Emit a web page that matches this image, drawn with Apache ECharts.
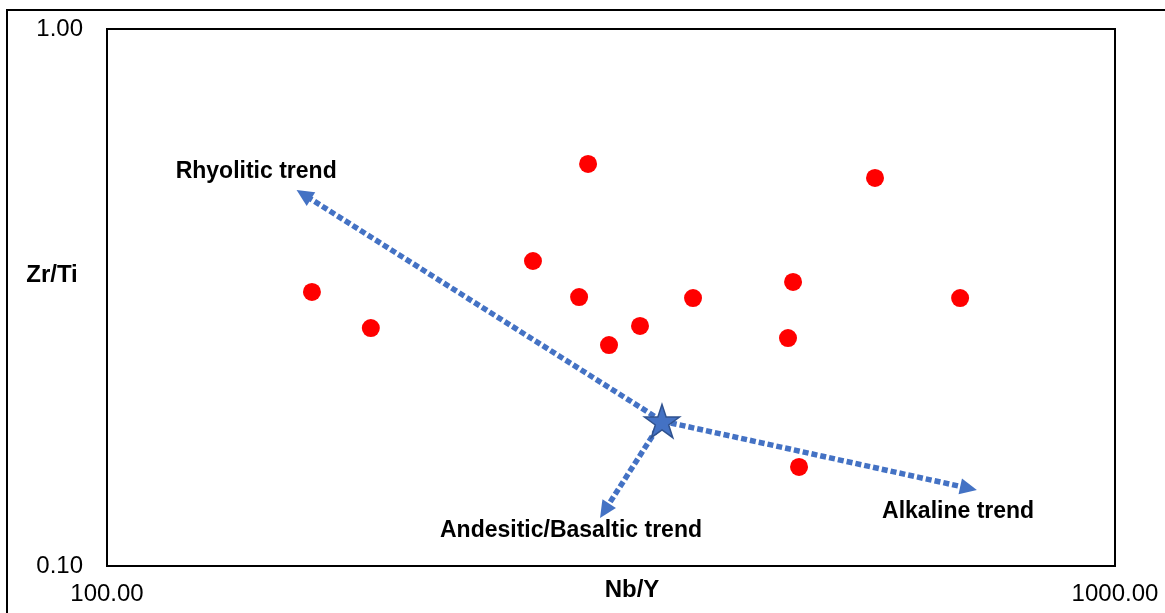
<!DOCTYPE html>
<html>
<head>
<meta charset="utf-8">
<title>Zr/Ti vs Nb/Y</title>
<script src="https://cdn.jsdelivr.net/npm/echarts@6/dist/echarts.min.js"></script>
<style>
  html, body { margin: 0; padding: 0; background: #fff; }
  #chart { width: 1165px; height: 613px; }
</style>
</head>
<body>
<div id="chart"></div>
<script>
// Sample compositions: Nb/Y (x) and Zr/Ti (y)
const nbY = [159.7, 182.7, 264.6, 300.1, 294.0, 314.8, 337.9, 381.4, 479.3, 473.8, 578.0, 702.0, 485.9];
const zrTi = [0.3238, 0.2774, 0.3698, 0.5606, 0.3168, 0.2579, 0.2800, 0.3155, 0.3380, 0.2658, 0.5280, 0.3155, 0.1529];

// Common origin of the trend arrows
const origin = [355.3, 0.1862];

// Trend arrows: tip points and their captions
const trendNames = ['Rhyolitic trend', 'Andesitic/Basaltic trend', 'Alkaline trend'];
const trendEnds = [[154.2, 0.5013], [308.4, 0.1229], [729.4, 0.1385]];
const trendLabelAt = [[140.6, 0.5417], [288.6, 0.1162], [698.8, 0.1260]];

// Axis ranges
const xRange = [100, 1000];
const yRange = [0.1, 1];

const FONT = 'Arial, "Liberation Sans", sans-serif';
const BLUE = '#4472C4';
const STAR = 'path://M50 0 L61.23 34.55 L97.55 34.55 L68.16 55.9 L79.39 90.45 L50 69.1 L20.61 90.45 L31.84 55.9 L2.45 34.55 L38.77 34.55 Z';
const HEAD = 17; // arrowhead length in px

const chart = echarts.init(document.getElementById('chart'), null, { renderer: 'canvas' });

const baseOption = {
  animation: false,
  backgroundColor: '#fff',
  grid: {
    left: 107, right: 50, top: 29, bottom: 47,
    show: true, borderColor: '#000', borderWidth: 2, backgroundColor: 'transparent'
  },
  xAxis: {
    type: 'log', logBase: 10, min: xRange[0], max: xRange[1],
    axisLine: { show: false }, axisTick: { show: false }, splitLine: { show: false },
    axisLabel: {
      margin: 16, color: '#000', fontSize: 24, fontFamily: FONT,
      formatter: v => v.toFixed(2)
    }
  },
  yAxis: {
    type: 'log', logBase: 10, min: yRange[0], max: yRange[1],
    axisLine: { show: false }, axisTick: { show: false }, splitLine: { show: false },
    axisLabel: {
      margin: 24, color: '#000', fontSize: 24, fontFamily: FONT,
      formatter: v => v.toFixed(2)
    }
  },
  graphic: [
    { type: 'rect', z: -1, shape: { x: 7, y: 10, width: 1200, height: 700 },
      style: { fill: 'none', stroke: '#000', lineWidth: 2 } },
    { type: 'text', x: 52, y: 275,
      style: { text: 'Zr/Ti', font: 'bold 24px ' + FONT, fill: '#000', align: 'center', verticalAlign: 'middle' } },
    { type: 'text', x: 632, y: 590,
      style: { text: 'Nb/Y', font: 'bold 24px ' + FONT, fill: '#000', align: 'center', verticalAlign: 'middle' } }
  ],
  series: []
};

chart.setOption(baseOption);

// Arrowheads: place each triangle so its tip sits on the trend end point,
// rotated along the trend direction in screen space.
const toPx = d => chart.convertToPixel({ gridIndex: 0 }, d);
const toData = p => chart.convertFromPixel({ gridIndex: 0 }, p);
const p0 = toPx(origin);
const heads = trendEnds.map(end => {
  const p1 = toPx(end);
  const dx = p1[0] - p0[0], dy = p1[1] - p0[1];
  const len = Math.hypot(dx, dy);
  const ux = dx / len, uy = dy / len;
  const c = toData([p1[0] - ux * HEAD / 2, p1[1] - uy * HEAD / 2]);
  const base = toData([p1[0] - ux * HEAD * 0.8, p1[1] - uy * HEAD * 0.8]);
  const rot = Math.atan2(-dy, dx) * 180 / Math.PI - 90;
  return { center: c, base: base, rot: rot };
});

const trendSeries = trendEnds.map((end, i) => ({
  name: trendNames[i],
  type: 'line',
  silent: true,
  symbol: 'none',
  z: 3,
  lineStyle: { color: BLUE, width: 5.5, type: [6, 3], cap: 'butt' },
  data: [origin, heads[i].base]
}));

chart.setOption({
  series: [
    ...trendSeries,
    {
      name: 'arrowheads',
      type: 'scatter',
      silent: true,
      symbol: 'triangle',
      z: 3,
      itemStyle: { color: BLUE, opacity: 1 },
      data: heads.map(h => ({ value: h.center, symbolRotate: h.rot, symbolSize: [16, HEAD] }))
    },
    {
      name: 'samples',
      type: 'scatter',
      symbol: 'circle',
      symbolSize: 18,
      itemStyle: { color: '#FF0000', opacity: 1 },
      data: nbY.map((x, i) => [x, zrTi[i]])
    },
    {
      name: 'origin',
      type: 'scatter',
      symbol: STAR,
      symbolSize: 35,
      symbolKeepAspect: true,
      z: 5,
      itemStyle: { color: BLUE, borderColor: '#2F528F', borderWidth: 1.5, opacity: 1 },
      data: [origin]
    },
    {
      name: 'trend labels',
      type: 'scatter',
      symbolSize: 0,
      silent: true,
      z: 6,
      itemStyle: { opacity: 1 },
      label: {
        show: true, position: 'inside',
        formatter: p => trendNames[p.dataIndex],
        color: '#000', fontSize: 23, fontWeight: 'bold', fontFamily: FONT
      },
      data: trendLabelAt
    }
  ]
});
</script>
</body>
</html>
